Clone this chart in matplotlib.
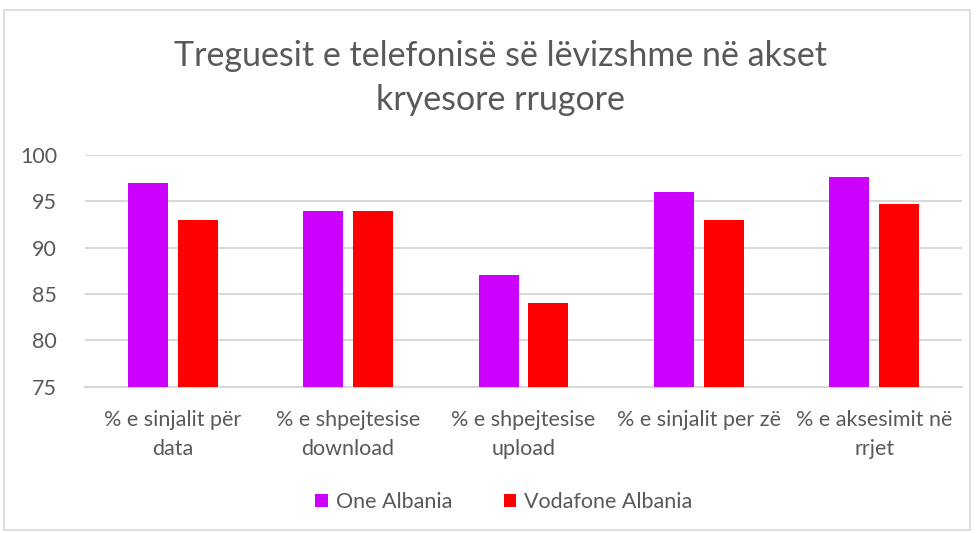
import matplotlib.pyplot as plt
import numpy as np
from matplotlib.patches import Rectangle

categories = ["% e sinjalit për\ndata", "% e shpejtesise\ndownload", "% e shpejtesise\nupload",
              "% e sinjalit per zë", "% e aksesimit në\nrrjet"]
one_albania = [97, 94, 87, 96, 97.6]
vodafone_albania = [93, 94, 84, 93, 94.7]
y_ticks = [75, 80, 85, 90, 95, 100]

plt.rcParams['font.family'] = ['Lato', 'DejaVu Sans']
text_color = '#595959'
grid_color = '#d9d9d9'

fig = plt.figure(figsize=(9.78, 5.33), dpi=100)
fig.patches.append(Rectangle((4 / 978, 3 / 533), 966 / 978, 520 / 533, transform=fig.transFigure,
                             fill=False, edgecolor='#d9d9d9', linewidth=1.2))
ax = fig.add_axes([85 / 978, 1 - 386.7 / 533, 877 / 978, 231.7 / 533])

x = np.arange(len(categories))
w = 0.228
gap = 0.057
ax.bar(x - (w + gap) / 2, one_albania, w, color='#cc00ff', label='One Albania', zorder=3)
ax.bar(x + (w + gap) / 2, vodafone_albania, w, color='#ff0000', label='Vodafone Albania', zorder=3)

ax.set_ylim(75, 100)
ax.set_xlim(-0.5, len(categories) - 0.5)
ax.set_yticks(y_ticks)
ax.set_xticks(x)
ax.set_xticklabels(categories, fontsize=15.5, color=text_color, linespacing=1.55)
ax.tick_params(axis='y', labelsize=15.5, colors=text_color, length=0, pad=20)
ax.tick_params(axis='x', length=0, pad=17)
ax.grid(axis='y', color=grid_color, linewidth=1.5, zorder=0)
for s in ['top', 'right', 'left']:
    ax.spines[s].set_visible(False)
ax.spines['bottom'].set_color(grid_color)
ax.spines['bottom'].set_linewidth(1.5)

fig.text(0.512, 1 - 78 / 533, "Treguesit e telefonisë së lëvizshme në akset\nkryesore rrugore",
         ha='center', va='center', fontsize=24.5, color=text_color, linespacing=1.45)

fig.legend(loc='center', bbox_to_anchor=(0.515, 1 - 502 / 533), ncol=2, frameon=False,
           fontsize=15.5, labelcolor=text_color, handlelength=0.6, handleheight=0.6,
           handletextpad=0.35, columnspacing=2.4)

fig.savefig('out.png', dpi=100)
